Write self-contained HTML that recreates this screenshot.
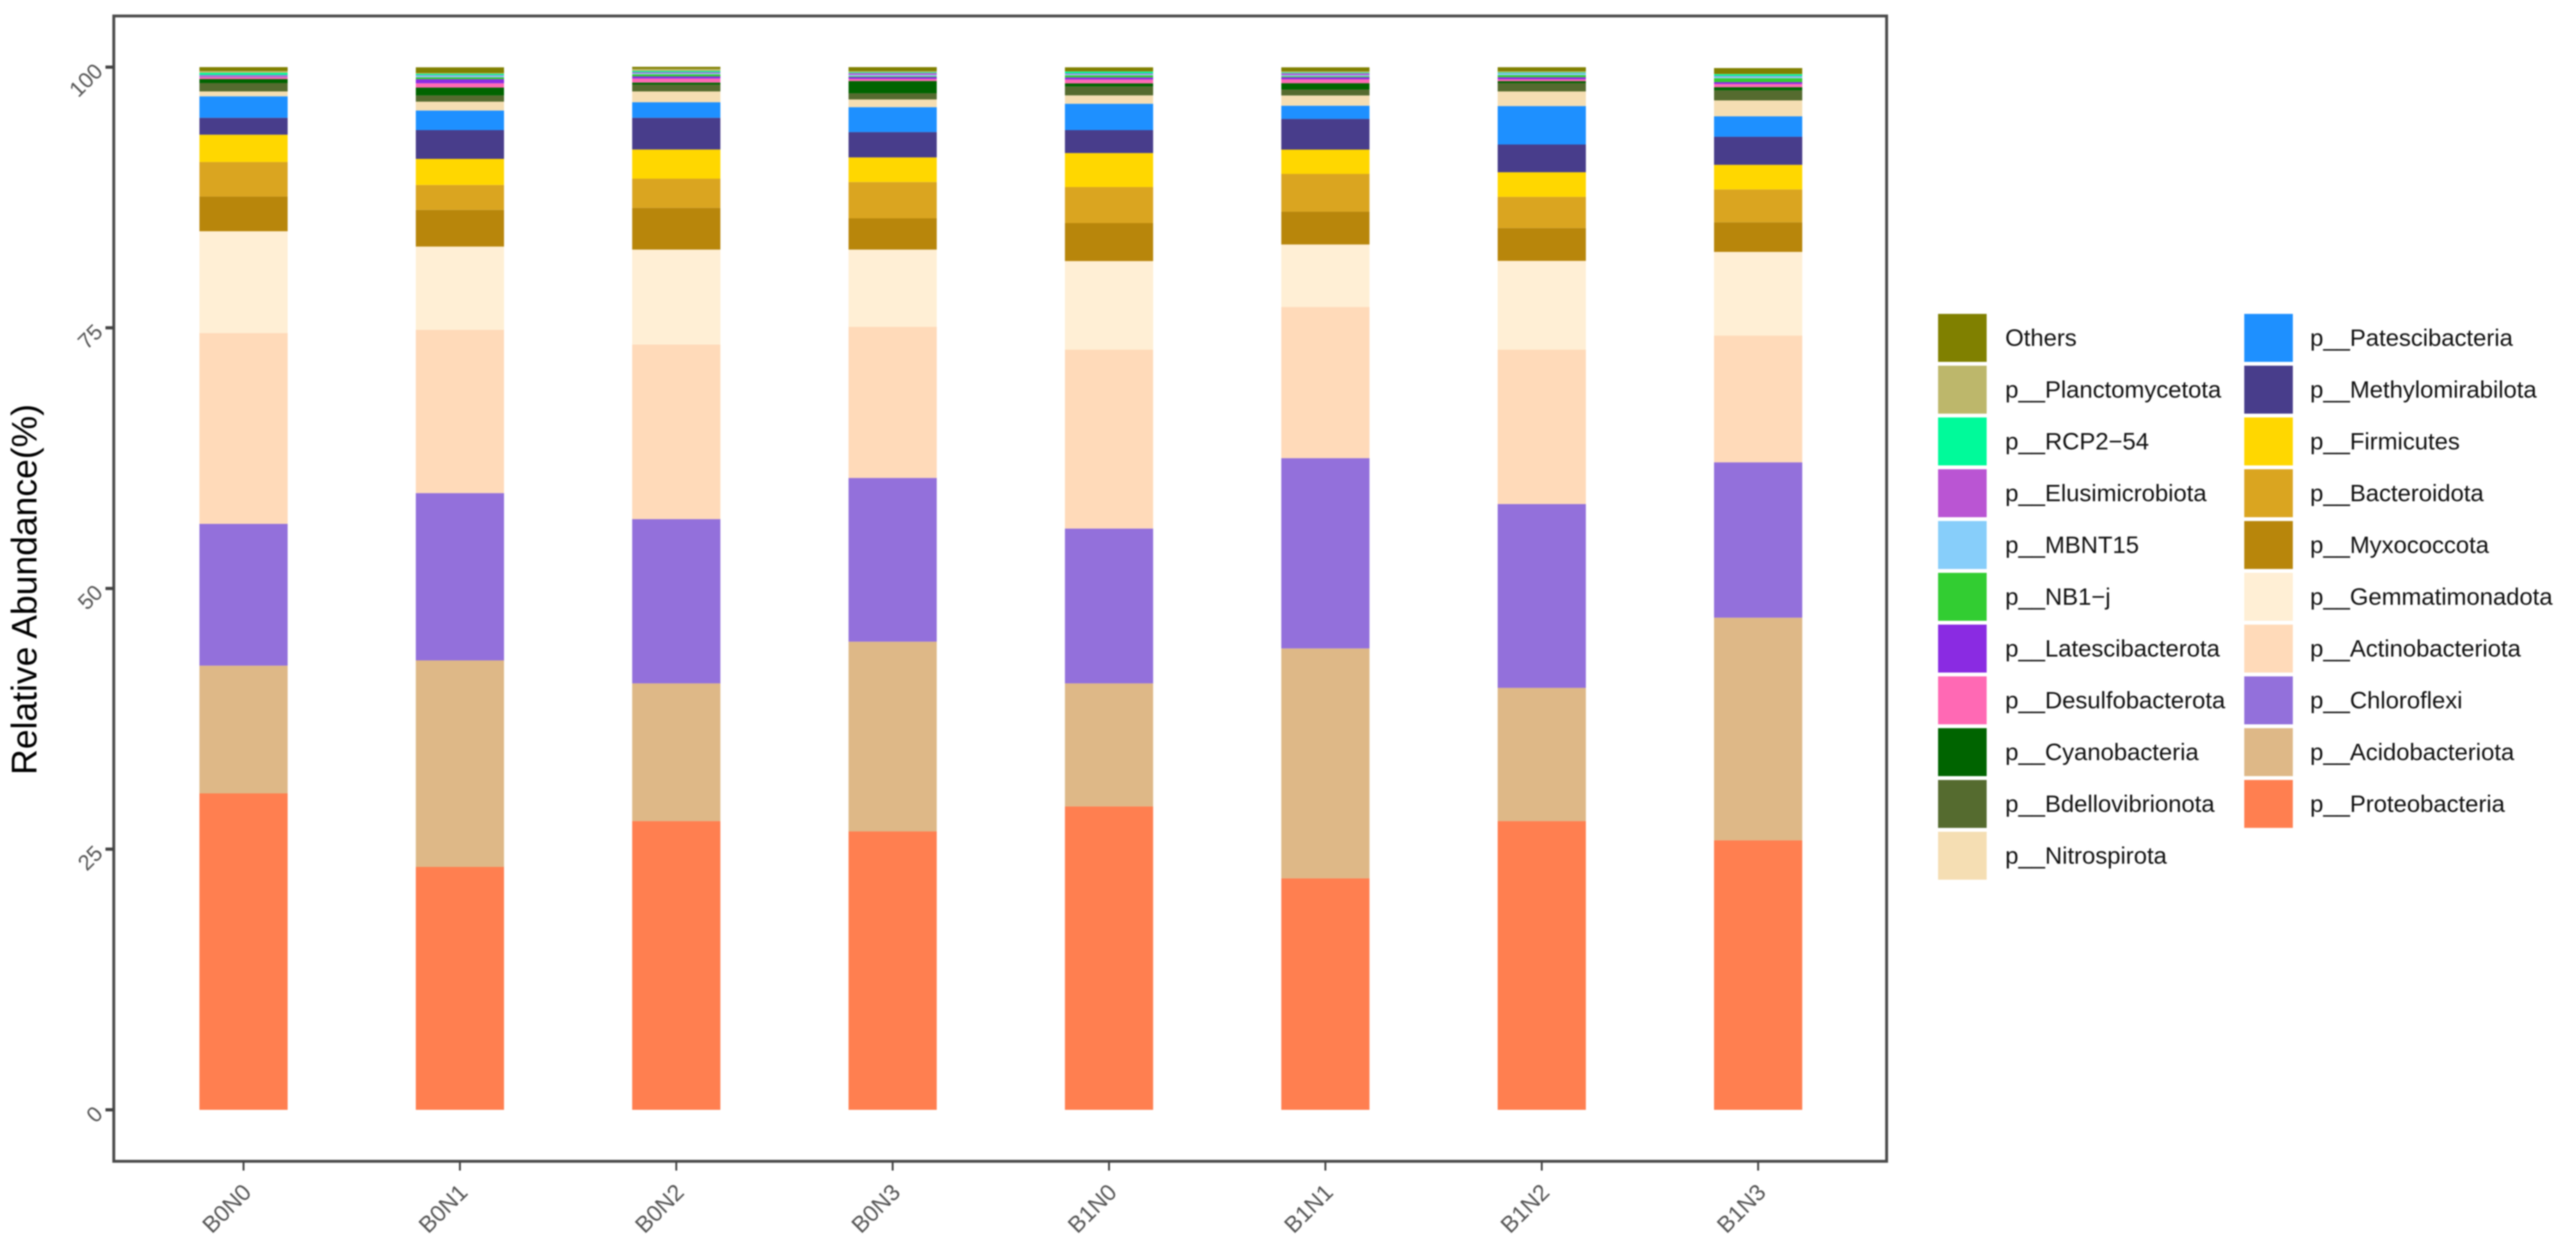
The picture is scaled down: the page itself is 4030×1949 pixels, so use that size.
<!DOCTYPE html>
<html lang="en">
<head>
<meta charset="utf-8">
<title>Relative Abundance Stacked Bars</title>
<style>
html,body{margin:0;padding:0;background:#fff;}
body{width:4030px;height:1949px;overflow:hidden;}
svg{display:block;filter:blur(1.1px);font-family:"Liberation Sans",sans-serif;}
.leg{font-size:37.3px;fill:#111;}
</style>
</head>
<body>
<svg id="chart" xmlns="http://www.w3.org/2000/svg" width="4030" height="1949" viewBox="0 0 4030 1949">
  <rect x="0" y="0" width="4030" height="1949" fill="#ffffff"/>
  <g id="bars"></g>
  <rect x="178" y="25" width="2773.5" height="1791.5" fill="none" stroke="#4a4a4a" stroke-width="4.5"/>
  <g id="yaxis"></g>
  <g id="xaxis"></g>
  <text transform="translate(57,922) rotate(-90)" text-anchor="middle" font-size="55.5" fill="#000">Relative Abundance(%)</text>

  <g>
    <g><rect x="3032" y="491" width="76" height="75" fill="#808000"/><text class="leg" x="3137" y="541">Others</text></g>
    <g><rect x="3032" y="572" width="76" height="75" fill="#BDB76B"/><text class="leg" x="3137" y="622">p__Planctomycetota</text></g>
    <g><rect x="3032" y="653" width="76" height="75" fill="#00FA9A"/><text class="leg" x="3137" y="703">p__RCP2−54</text></g>
    <g><rect x="3032" y="734" width="76" height="75" fill="#BA55D3"/><text class="leg" x="3137" y="784">p__Elusimicrobiota</text></g>
    <g><rect x="3032" y="815" width="76" height="75" fill="#87CEFA"/><text class="leg" x="3137" y="865">p__MBNT15</text></g>
    <g><rect x="3032" y="896" width="76" height="75" fill="#32CD32"/><text class="leg" x="3137" y="946">p__NB1−j</text></g>
    <g><rect x="3032" y="977" width="76" height="75" fill="#8A2BE2"/><text class="leg" x="3137" y="1027">p__Latescibacterota</text></g>
    <g><rect x="3032" y="1058" width="76" height="75" fill="#FF69B4"/><text class="leg" x="3137" y="1108">p__Desulfobacterota</text></g>
    <g><rect x="3032" y="1139" width="76" height="75" fill="#006400"/><text class="leg" x="3137" y="1189">p__Cyanobacteria</text></g>
    <g><rect x="3032" y="1220" width="76" height="75" fill="#556B2F"/><text class="leg" x="3137" y="1270">p__Bdellovibrionota</text></g>
    <g><rect x="3032" y="1301" width="76" height="75" fill="#F5DEB3"/><text class="leg" x="3137" y="1351">p__Nitrospirota</text></g>

    <g><rect x="3511" y="491" width="76" height="75" fill="#1E90FF"/><text class="leg" x="3614" y="541">p__Patescibacteria</text></g>
    <g><rect x="3511" y="572" width="76" height="75" fill="#483D8B"/><text class="leg" x="3614" y="622">p__Methylomirabilota</text></g>
    <g><rect x="3511" y="653" width="76" height="75" fill="#FFD700"/><text class="leg" x="3614" y="703">p__Firmicutes</text></g>
    <g><rect x="3511" y="734" width="76" height="75" fill="#DAA520"/><text class="leg" x="3614" y="784">p__Bacteroidota</text></g>
    <g><rect x="3511" y="815" width="76" height="75" fill="#B8860B"/><text class="leg" x="3614" y="865">p__Myxococcota</text></g>
    <g><rect x="3511" y="896" width="76" height="75" fill="#FFEFD5"/><text class="leg" x="3614" y="946">p__Gemmatimonadota</text></g>
    <g><rect x="3511" y="977" width="76" height="75" fill="#FFDAB9"/><text class="leg" x="3614" y="1027">p__Actinobacteriota</text></g>
    <g><rect x="3511" y="1058" width="76" height="75" fill="#9370DB"/><text class="leg" x="3614" y="1108">p__Chloroflexi</text></g>
    <g><rect x="3511" y="1139" width="76" height="75" fill="#DEB887"/><text class="leg" x="3614" y="1189">p__Acidobacteriota</text></g>
    <g><rect x="3511" y="1220" width="76" height="75" fill="#FF7F50"/><text class="leg" x="3614" y="1270">p__Proteobacteria</text></g>
  </g>
</svg>

<script>
const categories = ["B0N0","B0N1","B0N2","B0N3","B1N0","B1N1","B1N2","B1N3"];
const yTicks = [0,25,50,75,100];

const proteobacteria   = [30.35,23.3,27.7,26.7,29.1,22.2,27.7,25.85];
const acidobacteriota  = [12.25,19.8,13.2,18.2,11.8,22.05,12.77,21.35];
const chloroflexi      = [13.6,16.05,15.75,15.7,14.85,18.25,17.63,14.9];
const actinobacteriota = [18.3,15.65,16.75,14.5,17.15,14.5,14.8,12.15];
const gemmatimonadota  = [9.76,7.99,9.1,7.4,8.5,5.99,8.52,8.03];
const myxococcota      = [3.33,3.52,4.0,3.0,3.64,3.15,3.15,2.84];
const bacteroidota     = [3.31,2.39,2.8,3.48,3.46,3.62,2.99,3.15];
const firmicutes       = [2.62,2.5,2.8,2.36,3.26,2.33,2.36,2.36];
const methylomirabilota= [1.62,2.76,3.04,2.43,2.2,2.94,2.66,2.69];
const patescibacteria  = [2.06,1.88,1.49,2.39,2.53,1.27,3.68,1.96];
const nitrospirota     = [0.47,0.85,1.04,0.74,0.8,0.98,1.41,1.53];
const bdellovibrionota = [0.8,0.59,0.65,0.59,0.85,0.57,0.8,0.96];
const cyanobacteria    = [0.39,0.76,0.2,1.18,0.3,0.61,0.18,0.31];
const desulfobacterota = [0.18,0.41,0.39,0.2,0.37,0.37,0.18,0.3];
const latescibacterota = [0.06,0.39,0.2,0.18,0.2,0.2,0.2,0.18];
const nb1j             = [0.02,0.18,0.2,0.08,0.2,0.1,0.2,0.38];
const mbnt15           = [0.02,0.14,0.1,0.12,0.1,0.1,0.16,0.15];
const elusimicrobiota  = [0.1,0.06,0.1,0.18,0.08,0.18,0.03,0.05];
const rcp254           = [0.22,0.14,0.12,0.08,0.18,0.08,0.08,0.18];
const planctomycetota  = [0.17,0.07,0.2,0.1,0.02,0.1,0.1,0.02];
const others           = [0.37,0.55,0.2,0.39,0.39,0.39,0.39,0.57];

const stackOrder = [proteobacteria,acidobacteriota,chloroflexi,actinobacteriota,gemmatimonadota,myxococcota,bacteroidota,firmicutes,methylomirabilota,patescibacteria,nitrospirota,bdellovibrionota,cyanobacteria,desulfobacterota,latescibacterota,nb1j,mbnt15,elusimicrobiota,rcp254,planctomycetota,others];
const stackNames = ["proteobacteria","acidobacteriota","chloroflexi","actinobacteriota","gemmatimonadota","myxococcota","bacteroidota","firmicutes","methylomirabilota","patescibacteria","nitrospirota","bdellovibrionota","cyanobacteria","desulfobacterota","latescibacterota","nb1-j","mbnt15","elusimicrobiota","rcp2-54","planctomycetota","others"];
const palette = ["#FF7F50","#DEB887","#9370DB","#FFDAB9","#FFEFD5","#B8860B","#DAA520","#FFD700","#483D8B","#1E90FF","#F5DEB3","#556B2F","#006400","#FF69B4","#8A2BE2","#32CD32","#87CEFA","#BA55D3","#00FA9A","#BDB76B","#808000"];

const NS = "http://www.w3.org/2000/svg";
function xCenter(i){ return 381 + i * 338.5; }
function yPos(v){ return 1736 - v * 16.31; }
const barWidth = 138;

const barsG = document.getElementById("bars");
categories.forEach(function(cat, i){
  let cum = 0;
  stackOrder.forEach(function(series, s){
    const v = series[i];
    const r = document.createElementNS(NS, "rect");
    r.setAttribute("x", xCenter(i) - barWidth / 2);
    r.setAttribute("width", barWidth);
    r.setAttribute("y", yPos(cum + v));
    r.setAttribute("height", yPos(cum) - yPos(cum + v));
    r.setAttribute("fill", palette[s]);
    
    
    barsG.appendChild(r);
    cum += v;
  });
});

const yG = document.getElementById("yaxis");
yTicks.forEach(function(t){
  const y = yPos(t);
  const tick = document.createElementNS(NS, "line");
  tick.setAttribute("x1", 165);
  tick.setAttribute("x2", 178);
  tick.setAttribute("y1", y);
  tick.setAttribute("y2", y);
  tick.setAttribute("stroke", "#444");
  tick.setAttribute("stroke-width", 5);
  
  
  yG.appendChild(tick);
  const lab = document.createElementNS(NS, "text");
  lab.setAttribute("transform", "translate(154," + y + ") rotate(-45)");
  lab.setAttribute("text-anchor", "end");
  lab.setAttribute("dy", "0.36em");
  lab.setAttribute("font-size", 34);
  lab.setAttribute("fill", "#555555");
  lab.textContent = String(t);
  
  
  yG.appendChild(lab);
});

const xG = document.getElementById("xaxis");
categories.forEach(function(cat, i){
  const x = xCenter(i);
  const tick = document.createElementNS(NS, "line");
  tick.setAttribute("x1", x);
  tick.setAttribute("x2", x);
  tick.setAttribute("y1", 1817);
  tick.setAttribute("y2", 1831);
  tick.setAttribute("stroke", "#444");
  tick.setAttribute("stroke-width", 3);
  
  
  xG.appendChild(tick);
  const lab = document.createElementNS(NS, "text");
  lab.setAttribute("transform", "translate(" + (x + 5) + ",1858) rotate(-45)");
  lab.setAttribute("text-anchor", "end");
  lab.setAttribute("dy", "0.36em");
  lab.setAttribute("font-size", 36);
  lab.setAttribute("fill", "#555555");
  lab.textContent = cat;
  
  
  xG.appendChild(lab);
});
</script>
</body>
</html>
